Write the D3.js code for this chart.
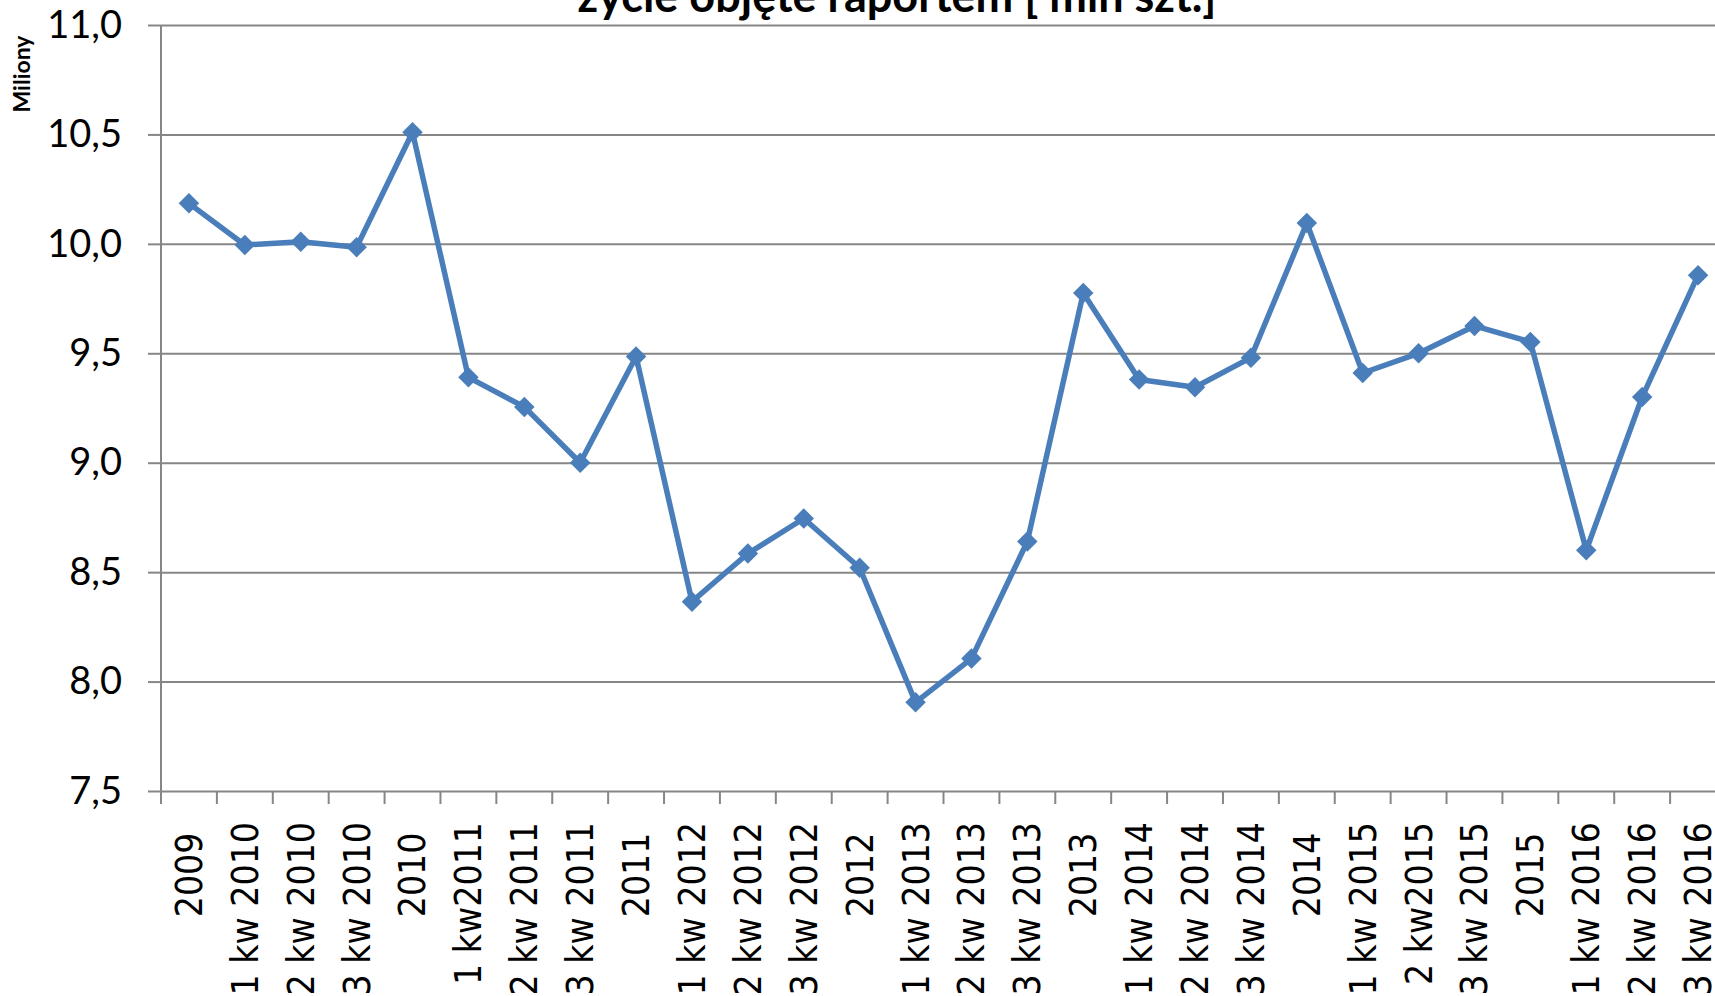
<!DOCTYPE html>
<html>
<head>
<meta charset="utf-8">
<script src="https://cdn.jsdelivr.net/npm/d3@7"></script>
<style>
  body { margin: 0; background: #fff; overflow: hidden; }
</style>
</head>
<body>
<div class="chartDiv"></div>
<script>
// category labels (year labels carry a trailing space like in the source sheet)
const categories = [
    '2009 ', '1 kw 2010', '2 kw 2010', '3 kw 2010', '2010 ',
    '1 kw2011', '2 kw 2011', '3 kw 2011', '2011 ',
    '1 kw 2012', '2 kw 2012', '3 kw 2012', '2012 ',
    '1 kw 2013', '2 kw 2013', '3 kw 2013', '2013 ',
    '1 kw 2014', '2 kw 2014', '3 kw 2014', '2014 ',
    '1 kw 2015', '2 kw2015', '3 kw 2015', '2015 ',
    '1 kw 2016', '2 kw 2016', '3 kw 2016'
];

// values in millions
const values = [
    10.185, 9.995, 10.01, 9.985, 10.51,
    9.39, 9.255, 9.0, 9.485,
    8.365, 8.585, 8.745, 8.52,
    7.905, 8.105, 8.64, 9.775,
    9.38, 9.345, 9.48, 10.095,
    9.41, 9.50, 9.625, 9.552,
    8.60, 9.30, 9.857
];

const yTicks = [7.5, 8.0, 8.5, 9.0, 9.5, 10.0, 10.5, 11.0];

const titleText = 'życie objęte raportem [ mln szt.]';
const yAxisTitle = 'Miliony';

const width = 1715;
const height = 996;

const plotLeft = 161;
const plotRight = 1726;
const plotTop = 25;
const plotBottom = 791;

const gridColor = '#868686';
const lineColor = '#4a7ebb';

const svg = d3.select('.chartDiv')
    .append('svg')
    .attr('width', width)
    .attr('height', height);

svg.append('rect')
    .attr('width', width)
    .attr('height', height)
    .attr('fill', '#fff');

const x = d3.scaleBand()
    .domain(categories)
    .range([plotLeft, plotRight]);

const y = d3.scaleLinear()
    .domain([7.5, 11.0])
    .range([plotBottom, plotTop]);

const fmt = d => d.toFixed(1).replace('.', ',');

// horizontal gridlines + y ticks
const yAxis = svg.append('g')
    .attr('transform', `translate(${plotLeft},0)`)
    .call(d3.axisLeft(y)
        .tickValues(yTicks)
        .tickFormat(fmt)
        .tickSize(13)
        .tickPadding(26));

yAxis.select('.domain').remove();
yAxis.selectAll('.tick line')
    .attr('stroke', gridColor)
    .attr('stroke-width', 2);
yAxis.selectAll('.tick')
    .append('line')
    .attr('x1', 0)
    .attr('x2', width - plotLeft)
    .attr('stroke', gridColor)
    .attr('stroke-width', 2);
yAxis.selectAll('.tick text')
    .attr('fill', '#000')
    .style('font-family', 'Lato, sans-serif')
    .style('font-size', '38px');

// vertical axis line
svg.append('line')
    .attr('x1', plotLeft)
    .attr('x2', plotLeft)
    .attr('y1', plotTop)
    .attr('y2', plotBottom)
    .attr('stroke', gridColor)
    .attr('stroke-width', 2);

// x axis ticks at band edges
const xAxis = svg.append('g')
    .attr('transform', `translate(0,${plotBottom})`);

xAxis.selectAll('line.xtick')
    .data(categories)
    .enter()
    .append('line')
    .attr('class', 'xtick')
    .attr('x1', d => x(d))
    .attr('x2', d => x(d))
    .attr('y1', 0)
    .attr('y2', 13)
    .attr('stroke', gridColor)
    .attr('stroke-width', 2);

xAxis.selectAll('text')
    .data(categories)
    .enter()
    .append('text')
    .attr('transform', d => `translate(${x(d) + x.bandwidth() / 2},31) rotate(-90)`)
    .attr('dy', '0.35em')
    .attr('text-anchor', 'end')
    .style('white-space', 'pre')
    .style('font-family', '"DejaVu Sans Condensed", "DejaVu Sans", sans-serif')
    .style('font-size', '37px')
    .attr('fill', '#000')
    .text(d => d);

// series line
const line = d3.line()
    .x((d, i) => x(categories[i]) + x.bandwidth() / 2)
    .y(d => y(d));

svg.append('path')
    .datum(values)
    .attr('d', line)
    .attr('fill', 'none')
    .attr('stroke', lineColor)
    .attr('stroke-width', 5.5)
    .attr('stroke-linejoin', 'round');

const diamond = d3.symbol().type(d3.symbolSquare).size(210);

svg.selectAll('path.marker')
    .data(values)
    .enter()
    .append('path')
    .attr('class', 'marker')
    .attr('d', diamond)
    .attr('transform', (d, i) => `translate(${x(categories[i]) + x.bandwidth() / 2},${y(d)}) rotate(45)`)
    .attr('fill', lineColor);

// title (top part sits outside the picture)
svg.append('text')
    .attr('x', 897)
    .attr('y', 12)
    .attr('text-anchor', 'middle')
    .style('font-family', 'Lato, sans-serif')
    .style('font-weight', 'bold')
    .style('font-size', '45px')
    .text(titleText);

// y axis title
svg.append('text')
    .attr('transform', 'translate(22,74) rotate(-90)')
    .attr('text-anchor', 'middle')
    .attr('dy', '0.35em')
    .style('font-family', 'Lato, sans-serif')
    .style('font-weight', 'bold')
    .style('font-size', '23px')
    .text(yAxisTitle);
</script>
</body>
</html>
